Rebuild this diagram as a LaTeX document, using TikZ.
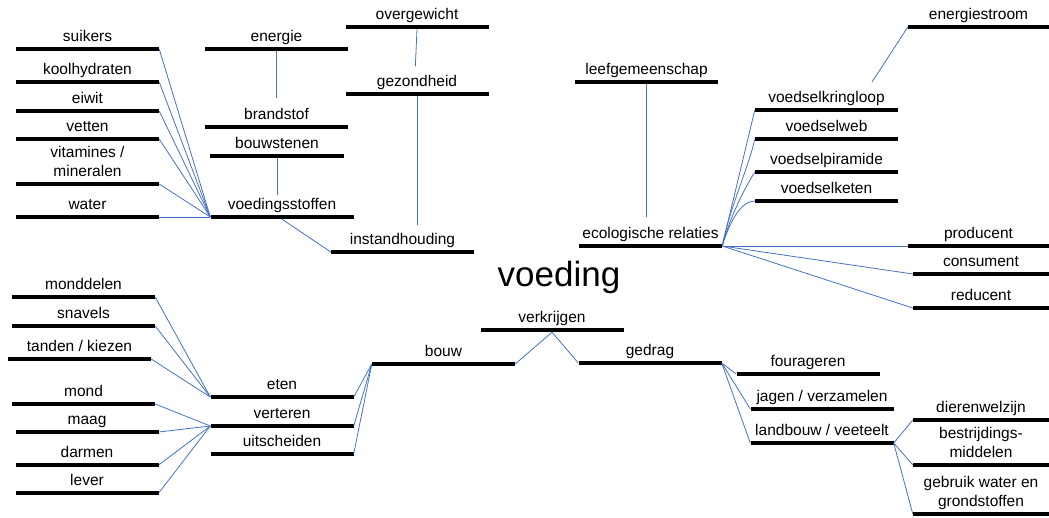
\documentclass[tikz,border=0pt]{standalone}
\usepackage{fontspec}
\setmainfont{Liberation Sans}
\definecolor{linkblue}{RGB}{68,114,196}
\begin{document}
\begin{tikzpicture}[x=1pt, y=-1pt,
  bar/.style={fill=black, inner sep=0pt, minimum height=4pt, minimum width=143pt},
  lbl/.style={font=\fontsize{15.5}{19}\selectfont, inner sep=0pt, text height=12pt, text depth=3.5pt, align=center},
  link/.style={draw=linkblue, line width=0.8pt},
  label distance=2pt]
\useasboundingbox (0,0) rectangle (1049,518);

% title
\node[font=\fontsize{35}{40}\selectfont, inner sep=0pt, anchor=base] (voeding) at (559,287) {voeding};

% voedingsstoffen
\node[bar, label={[lbl]above:suikers}] (suikers) at (87.5,49) {};
\node[bar, label={[lbl]above:koolhydraten}] (koolhydraten) at (87.5,82) {};
\node[bar, label={[lbl]above:eiwit}] (eiwit) at (87.5,111) {};
\node[bar, label={[lbl]above:vetten}] (vetten) at (87.5,139) {};
\node[bar, label={[lbl]above:{vitamines /\\mineralen}}] (vitamines) at (87.5,184) {};
\node[bar, label={[lbl]above:water}] (water) at (87.5,217) {};
\node[bar, label={[lbl]above:energie}] (energie) at (276.5,49) {};
\node[bar, label={[lbl,name=brandstof-t]above:brandstof}] (brandstof) at (276.5,127) {};
\node[bar, minimum width=134pt, label={[lbl]above:bouwstenen}] (bouwstenen) at (277,156) {};
\node[bar, label={[lbl,name=voedingsstoffen-t]above:voedingsstoffen}] (voedingsstoffen) at (282,217) {};
\node[bar, label={[lbl]above:overgewicht}] (overgewicht) at (417,27) {};
\node[bar, label={[lbl,name=gezondheid-t]above:gezondheid}] (gezondheid) at (417,94) {};
\node[bar, label={[lbl,name=instandhouding-t]above:instandhouding}] (instandhouding) at (402.5,252) {};

% ecologie
\node[bar, minimum width=141pt, label={[lbl]above:energiestroom}] (energiestroom) at (978.5,27) {};
\node[bar, label={[lbl]above:leefgemeenschap}] (leefgemeenschap) at (646.5,82) {};
\node[bar, label={[lbl]above:voedselkringloop}] (voedselkringloop) at (826.5,110) {};
\node[bar, label={[lbl]above:voedselweb}] (voedselweb) at (826.5,139) {};
\node[bar, label={[lbl]above:voedselpiramide}] (voedselpiramide) at (826.5,172) {};
\node[bar, label={[lbl]above:voedselketen}] (voedselketen) at (826.5,201) {};
\node[bar, label={[lbl,name=ecologisch-t]above:ecologische relaties}] (ecologisch) at (650.5,246) {};
\node[bar, minimum width=141pt, label={[lbl]above:producent}] (producent) at (978.5,246) {};
\node[bar, minimum width=136pt, label={[lbl]above:consument}] (consument) at (981,274) {};
\node[bar, minimum width=136pt, label={[lbl]above:reducent}] (reducent) at (981,308) {};
\coordinate (kringtop) at (872,82);

% verkrijgen
\node[bar, label={[lbl]above:monddelen}] (monddelen) at (83.5,297) {};
\node[bar, label={[lbl]above:snavels}] (snavels) at (83.5,326) {};
\node[bar, label={[lbl]above:tanden / kiezen}] (tanden) at (79.5,359) {};
\node[bar, label={[lbl]above:mond}] (mond) at (83.5,404) {};
\node[bar, label={[lbl]above:maag}] (maag) at (87,432) {};
\node[bar, label={[lbl]above:darmen}] (darmen) at (87,465) {};
\node[bar, label={[lbl]above:lever}] (lever) at (87,493) {};
\node[bar, label={[lbl]above:eten}] (eten) at (282,397) {};
\node[bar, label={[lbl]above:verteren}] (verteren) at (282,426) {};
\node[bar, label={[lbl]above:uitscheiden}] (uitscheiden) at (282,454) {};
\node[bar, label={[lbl]above:bouw}] (bouw) at (443.5,364) {};
\node[bar, label={[lbl]above:verkrijgen}] (verkrijgen) at (552,330) {};
\node[bar, label={[lbl]above:gedrag}] (gedrag) at (650,363) {};
\node[bar, label={[lbl]above:fourageren}] (fourageren) at (808,374) {};
\node[bar, label={[lbl]above:jagen / verzamelen}] (jagen) at (822,409) {};
\node[bar, label={[lbl]above:landbouw / veeteelt}] (landbouw) at (822,443) {};
\node[bar, minimum width=136pt, label={[lbl]above:dierenwelzijn}] (dierenwelzijn) at (981,420) {};
\node[bar, minimum width=136pt, label={[lbl]above:{bestrijdings-\\middelen}}] (bestrijding) at (981,465) {};
\node[bar, minimum width=136pt, label={[lbl]above:{gebruik water en\\grondstoffen}}] (gebruik) at (981,514) {};

% verbindingen
\foreach \n in {suikers,koolhydraten,eiwit,vetten,vitamines,water}
  \draw[link] (\n.east) -- (voedingsstoffen.west);
\draw[link, shorten >=8.5pt] (energie.south) -- (brandstof-t.north);
\draw[link, shorten >=2pt] (bouwstenen.south) -- (bouwstenen.south |- voedingsstoffen-t.north);
\draw[link] (voedingsstoffen.south) -- (instandhouding.west);
\draw[link, shorten >=7.5pt] (overgewicht.south) -- ([xshift=-2pt]gezondheid-t.north);
\draw[link, shorten >=6.5pt] (gezondheid.south) -- (gezondheid.south |- instandhouding-t.north);

\draw[link] (energiestroom.west) -- (kringtop);
\draw[link, shorten >=8.5pt] (leefgemeenschap.south) -- (leefgemeenschap.south |- ecologisch-t.north);
\draw[link] (ecologisch.east) -- (voedselkringloop.west);
\draw[link] (ecologisch.east) .. controls +(8,-40) and +(-6,28) .. (voedselweb.west);
\draw[link] (ecologisch.east) .. controls +(8,-30) and +(-10,16) .. (voedselpiramide.west);
\draw[link] (ecologisch.east) .. controls +(8,-25) and +(-14,0) .. (voedselketen.west);
\foreach \n in {producent,consument,reducent}
  \draw[link] (ecologisch.east) -- (\n.west);

\foreach \n in {monddelen,snavels,tanden}
  \draw[link] (\n.east) -- (eten.west);
\foreach \n in {mond,maag,darmen,lever}
  \draw[link] (\n.east) -- (verteren.west);
\foreach \n in {eten,verteren,uitscheiden}
  \draw[link] (\n.east) -- (bouw.west);
\draw[link] (bouw.east) -- (verkrijgen.south) -- (gedrag.west);
\foreach \n in {fourageren,jagen,landbouw}
  \draw[link] (gedrag.east) -- (\n.west);
\foreach \n in {dierenwelzijn,bestrijding,gebruik}
  \draw[link] (landbouw.east) -- (\n.west);
\end{tikzpicture}
\end{document}
